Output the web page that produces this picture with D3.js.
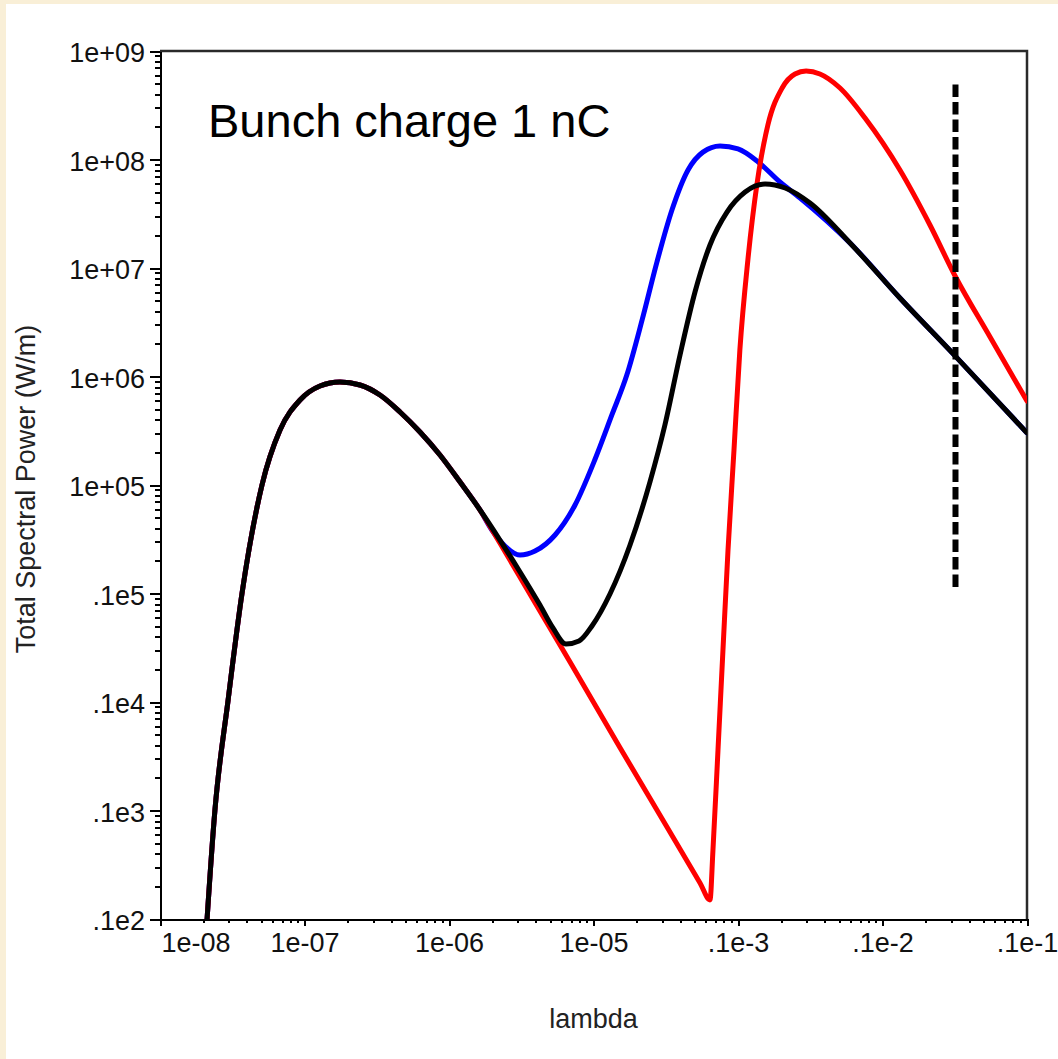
<!DOCTYPE html>
<html>
<head>
<meta charset="utf-8">
<script src="https://cdn.jsdelivr.net/npm/d3@7"></script>
<style>
  html, body { margin: 0; padding: 0; background: #f9efd7; }
  svg { display: block; }
  .panel { fill: #ffffff; }
  .axis path, .axis line { stroke: #000; stroke-width: 2; shape-rendering: crispEdges; }
  .axis text { font-family: 'Liberation Sans', Arial, sans-serif; font-size: 27px; fill: #111; }
  .axis-title { font-family: 'Liberation Sans', Arial, sans-serif; font-size: 27px; fill: #222; }
  .chart-note { font-family: 'Liberation Sans', Arial, sans-serif; font-size: 47px; fill: #000; }
  .curve { fill: none; stroke-width: 5; stroke-linejoin: round; stroke-linecap: round; }
</style>
</head>
<body>
<svg id="chart" width="1058" height="1059"></svg>
<script>
// tick values and their labels, as printed on the plot
const xTickValues = [1e-8, 1e-7, 1e-6, 1e-5, 1e-4, 1e-3, 1e-2]
const xTickLabels = ['1e-08', '1e-07', '1e-06', '1e-05', '.1e-3', '.1e-2', '.1e-1']
const yTickValues = [1e9, 1e8, 1e7, 1e6, 1e5, 1e4, 1e3, 1e2, 1e1]
const yTickLabels = ['1e+09', '1e+08', '1e+07', '1e+06', '1e+05', '.1e5', '.1e4', '.1e3', '.1e2']

// [lambda, power]
// part shared by all three curves
const sharedRise = [
  [2.05e-8, 5.2], [2.40e-8, 101], [2.96e-8, 1.04e3], [3.69e-8, 9.9e3],
  [5.08e-8, 1.0e5], [6.77e-8, 3.21e5], [9.31e-8, 6.07e5], [1.28e-7, 8.17e5],
  [1.76e-7, 8.9e5], [2.42e-7, 8.35e5], [3.33e-7, 6.75e5], [4.58e-7, 4.71e5],
  [6.30e-7, 3.08e5], [8.66e-7, 1.89e5], [1.19e-6, 1.07e5], [1.64e-6, 5.88e4]
]

const blueTail = [
  [1.98e-6, 3.85e4], [2.44e-6, 2.74e4], [3.10e-6, 2.26e4], [3.94e-6, 2.46e4],
  [5.42e-6, 3.46e4], [7.45e-6, 6.54e4], [1.02e-5, 1.70e5], [1.34e-5, 4.42e5],
  [1.70e-5, 1.03e6], [2.17e-5, 3.32e6], [2.75e-5, 1.14e7], [3.49e-5, 3.42e7],
  [4.51e-5, 8.0e7], [5.72e-5, 1.17e8], [7.51e-5, 1.33e8], [1.0e-4, 1.25e8],
  [1.38e-4, 9.48e7], [1.95e-4, 6.2e7], [2.69e-4, 4.42e7], [5.96e-4, 1.70e7],
  [1.32e-3, 5.29e6], [3.18e-3, 1.55e6], [1e-2, 3.02e5]
]

const redTail = [
  [2.25e-6, 2.92e4], [3.63e-6, 9.9e3], [6.88e-6, 2.34e3], [1.53e-5, 377],
  [3.38e-5, 63.4], [5.46e-5, 21.5], [6.40e-5, 15.0], [6.71e-5, 43.2],
  [7.27e-5, 361], [7.87e-5, 3.02e3], [8.53e-5, 2.52e4], [9.38e-5, 2.10e5],
  [1.03e-4, 1.75e6], [1.17e-4, 1.18e7], [1.35e-4, 5.82e7], [1.61e-4, 2.08e8],
  [2.02e-4, 4.56e8], [2.48e-4, 6.14e8], [2.96e-4, 6.54e8], [3.69e-4, 6.14e8],
  [5.08e-4, 4.56e8], [7.57e-4, 2.41e8], [1.32e-3, 8.0e7], [2.13e-3, 2.49e7],
  [3.18e-3, 8.44e6], [5.55e-3, 2.31e6], [1e-2, 5.94e5]
]

const blackTail = [
  [2.25e-6, 3.11e4], [3.10e-6, 1.58e4], [4.26e-6, 7.83e3], [5.24e-6, 4.81e3],
  [6.45e-6, 3.42e3], [7.94e-6, 3.65e3], [9.76e-6, 5.02e3], [1.30e-5, 9.9e3],
  [1.79e-5, 2.80e4], [2.46e-5, 1.07e5], [3.12e-5, 3.57e5], [3.97e-5, 1.58e6],
  [5.04e-5, 6.01e6], [6.40e-5, 1.63e7], [8.39e-5, 3.28e7], [1.12e-4, 5.02e7],
  [1.54e-4, 5.95e7], [2.12e-4, 5.46e7], [3.15e-4, 3.97e7], [5.96e-4, 1.70e7],
  [1.32e-3, 5.29e6], [3.18e-3, 1.55e6], [1e-2, 3.02e5]
]

// vertical dashed marker: lambda, and the power range it spans
const markerLambda = 3.2e-3
const markerRange = [4.9e8, 1.12e4]

const noteText = 'Bunch charge 1 nC'
const xTitle = 'lambda'
const yTitle = 'Total Spectral Power (W/m)'

const MARGIN = { top: 51, right: 31, bottom: 140, left: 160 }
const W = 1058, H = 1059
const boundedWidth = W - MARGIN.left - MARGIN.right
const boundedHeight = H - MARGIN.top - MARGIN.bottom

const $svg = d3.select('#chart')

const xScale = d3.scaleLog().domain([1e-8, 1e-2]).range([0, boundedWidth])
const yScale = d3.scaleLog().domain([1e1, 1e9]).range([boundedHeight, 0])

function minorTicks(majors) {
  const out = []
  majors.slice(0, -1).forEach(d => {
    for (let k = 2; k <= 9; k++) out.push(d * k)
  })
  return out
}

function drawChart() {
  // white sheet over the cream page
  $svg.append('rect').attr('class', 'panel')
    .attr('x', 6).attr('y', 4).attr('width', W - 6).attr('height', H - 4)

  const $g = $svg.append('g')
    .attr('transform', `translate(${MARGIN.left},${MARGIN.top})`)

  $g.append('clipPath').attr('id', 'plot-clip')
    .append('rect').attr('width', boundedWidth).attr('height', boundedHeight)

  // frame top + right
  $g.append('path')
    .attr('d', `M0,0H${boundedWidth}V${boundedHeight}`)
    .attr('fill', 'none').attr('stroke', '#2a2a2a').attr('stroke-width', 2.5)

  // minor ticks
  $g.append('g').attr('class', 'axis')
    .attr('transform', `translate(0,${boundedHeight})`)
    .call(d3.axisBottom(xScale).tickValues(minorTicks(xTickValues)).tickSize(4).tickSizeOuter(0).tickFormat(''))
    .select('.domain').remove()
  $g.append('g').attr('class', 'axis')
    .call(d3.axisLeft(yScale).tickValues(minorTicks(yTickValues.slice().reverse())).tickSize(5).tickSizeOuter(0).tickFormat(''))
    .select('.domain').remove()

  // major ticks + labels
  const $x = $g.append('g').attr('class', 'axis')
    .attr('transform', `translate(0,${boundedHeight})`)
    .call(d3.axisBottom(xScale).tickValues(xTickValues).tickSize(7).tickSizeOuter(0)
      .tickFormat((d, i) => xTickLabels[i]))
  $x.selectAll('text').attr('y', 33).attr('dy', 0)
  $x.selectAll('text').filter((d, i) => i === 0).attr('text-anchor', 'start').attr('x', 1)

  const $y = $g.append('g').attr('class', 'axis')
    .call(d3.axisLeft(yScale).tickValues(yTickValues).tickSize(10).tickSizeOuter(0)
      .tickPadding(5).tickFormat((d, i) => yTickLabels[i]))
  $y.selectAll('text').attr('dy', '0.4em')

  const line = d3.line()
    .x(d => xScale(d[0]))
    .y(d => yScale(d[1]))
    .curve(d3.curveMonotoneX)

  const series = [
    { color: '#0000ff', points: sharedRise.concat(blueTail) },
    { color: '#ff0000', points: sharedRise.concat(redTail) },
    { color: '#000000', points: sharedRise.concat(blackTail) }
  ]

  $g.append('g').attr('clip-path', 'url(#plot-clip)')
    .selectAll('path')
    .data(series)
    .enter()
    .append('path')
      .attr('class', 'curve')
      .attr('stroke', d => d.color)
      .attr('d', d => line(d.points))

  $g.append('line')
    .attr('x1', xScale(markerLambda)).attr('x2', xScale(markerLambda))
    .attr('y1', yScale(markerRange[0])).attr('y2', yScale(markerRange[1]))
    .attr('stroke', '#000').attr('stroke-width', 6)
    .attr('stroke-dasharray', '12.5,5')

  $g.append('text').attr('class', 'chart-note')
    .attr('x', 48).attr('y', 86)
    .text(noteText)

  $svg.append('text').attr('class', 'axis-title')
    .attr('x', MARGIN.left + boundedWidth / 2).attr('y', 1028)
    .attr('text-anchor', 'middle')
    .text(xTitle)

  $svg.append('text').attr('class', 'axis-title')
    .attr('transform', `translate(35,${MARGIN.top + boundedHeight / 2 + 4}) rotate(-90)`)
    .attr('text-anchor', 'middle')
    .text(yTitle)
}

drawChart()
</script>
</body>
</html>
